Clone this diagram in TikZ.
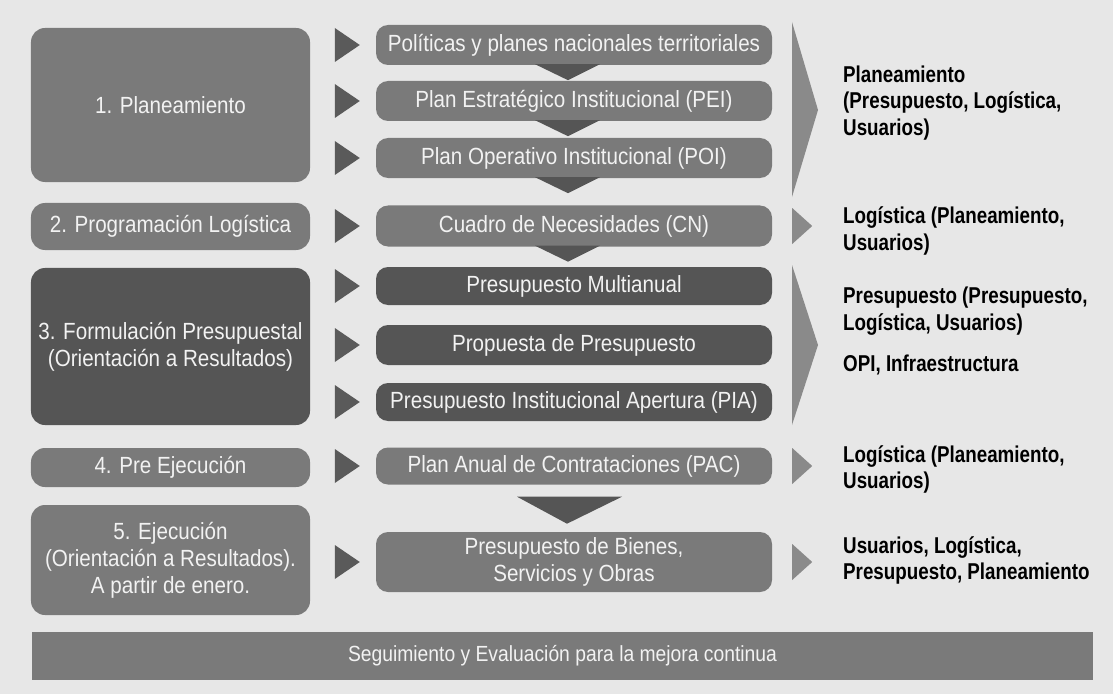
\documentclass[tikz,border=0pt]{standalone}
\usepackage{fontspec}
\setmainfont[FakeStretch=0.88]{Liberation Sans}
\newfontfamily\respfont[FakeStretch=0.82]{Liberation Sans}
\usetikzlibrary{positioning,calc}
\definecolor{bg}{HTML}{E7E7E7}
\definecolor{boxgray}{HTML}{7A7A7A}
\definecolor{boxdark}{HTML}{555555}
\definecolor{tipgray}{HTML}{5A5A5A}
\definecolor{chevgray}{HTML}{8A8A8A}
\definecolor{txtlight}{HTML}{F2F2F2}

\begin{document}
\begin{tikzpicture}[x=1bp,y=-1bp,
	stage/.style={fill=boxgray,rounded corners=14bp,text=txtlight,align=center,
		minimum width=279bp,inner sep=0pt,font=\fontsize{23.5}{27}\selectfont},
	doc/.style={stage,minimum width=396bp,rounded corners=12bp},
	tip/.style={fill=tipgray},
	chev/.style={fill=chevgray},
	resp/.style={anchor=west,align=left,inner sep=0pt,
		font=\respfont\bfseries\fontsize{23}{27}\selectfont}]
\fill[bg](0,0) rectangle (1113,694);
\useasboundingbox (0,0) rectangle (1113,694);
% stages
\foreach[count=\c] \y/\h/\f/\t in {105/154/boxgray/{1. Planeamiento},
	226.5/47/boxgray/{2. Programación Logística},
	346.5/157/boxdark/{3. Formulación Presupuestal\\(Orientación a Resultados)},
	467.5/39/boxgray/{4. Pre Ejecución},
	560/110/boxgray/{5. Ejecución\\(Orientación a Resultados).\\A partir de enero.}}
	\node[stage,fill=\f,minimum height=\h bp] (s\c) at (170.5,\y) {\t};
% documents
\foreach[count=\c] \y/\h/\f/\t in {45/40/boxgray/{Políticas y planes nacionales territoriales},
	101/40/boxgray/{Plan Estratégico Institucional (PEI)},
	158/40/boxgray/{Plan Operativo Institucional (POI)},
	226/41/boxgray/{Cuadro de Necesidades (CN)},
	286/38/boxdark/{Presupuesto Multianual},
	345/40/boxdark/{Propuesta de Presupuesto},
	402/38/boxdark/{Presupuesto Institucional Apertura (PIA)},
	466/37/boxgray/{Plan Anual de Contrataciones (PAC)},
	562/60/boxgray/{Presupuesto de Bienes,\\Servicios y Obras}}
	\node[doc,fill=\f,minimum height=\h bp] (d\c) at (574,\y) {\t};
\foreach \c in {1,...,9}
	\fill[tip]($(d\c.west)+(-41,-17)$)--($(d\c.west)+(-16,0)$)--($(d\c.west)+(-41,17)$)--cycle;
\foreach \c in {1,...,4}
	\fill[boxdark]($(d\c.south)+(-39,-1)$)--($(d\c.south)+(-6,15)$)--($(d\c.south)+(26,-1)$)--cycle;
\fill[boxdark]($(d8.south)+(-57,12)$)--($(d8.south)+(-7,39)$)--($(d8.south)+(48,12)$)--cycle;
% responsibles
\fill[chev](792,22)--(818,110)--(792,197)--cycle;
\fill[chev](792,265)--(818,345)--(792,425)--cycle;
\foreach \c in {4,8,9}
	\fill[chev]($(d\c.east)+(20,-18)$)--($(d\c.east)+(40,0)$)--($(d\c.east)+(20,18)$)--cycle;
\node[resp] (r1) at (843,103) {Planeamiento\\(Presupuesto, Logística,\\Usuarios)};
\node[resp] (r2) at (843,231) {Logística (Planeamiento,\\Usuarios)};
\node[resp] (r3) at (843,311) {Presupuesto (Presupuesto,\\Logística, Usuarios)};
\node[resp] (r4) at (843,365) {OPI, Infraestructura};
\node[resp] (r5) at (843,469.5) {Logística (Planeamiento,\\Usuarios)};
\node[resp] (r6) at (843,560.5) {Usuarios, Logística,\\Presupuesto, Planeamiento};
\node[stage,rounded corners=0pt,minimum width=1061bp,minimum height=48bp,
	font=\fontsize{22}{26}\selectfont] (bar) at (562.5,656) {Seguimiento y Evaluación para la mejora continua};
\end{tikzpicture}
\end{document}
